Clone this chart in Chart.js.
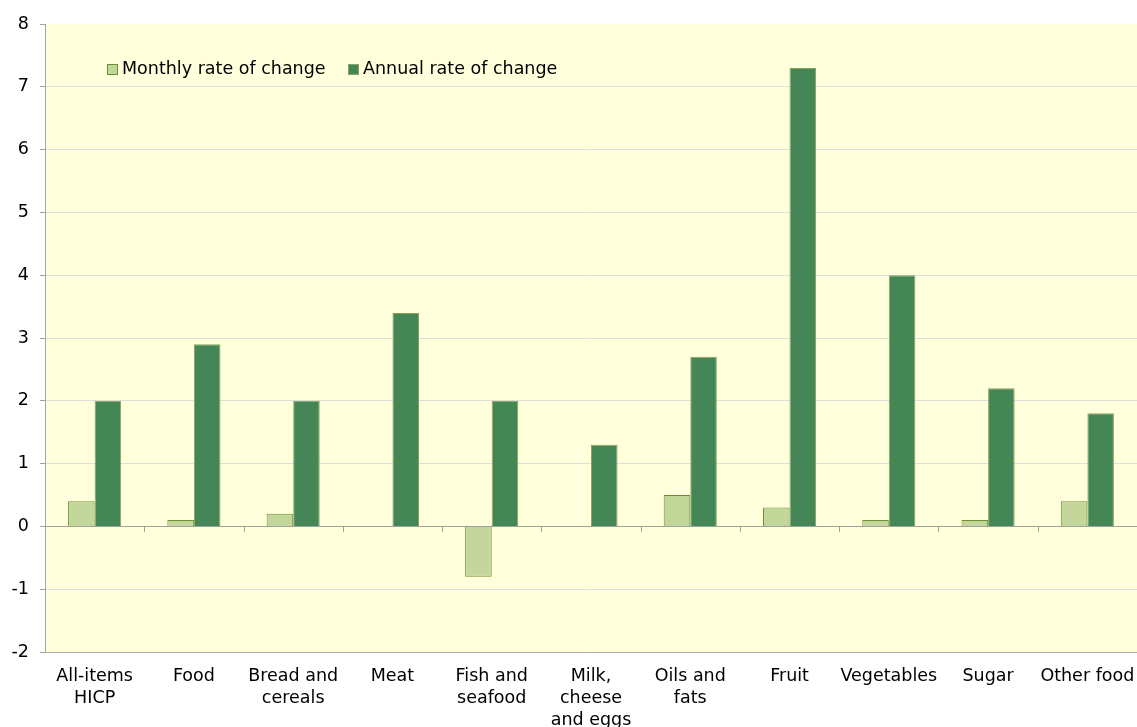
<!DOCTYPE html>
<html>
<head>
<meta charset="utf-8">
<script src="https://cdn.jsdelivr.net/npm/chart.js@4/dist/chart.umd.min.js"></script>
<style>
  html, body { margin: 0; padding: 0; background: #fff; overflow: hidden; }
  #wrap { width: 1137px; height: 727px; }
  canvas { display: block; }
</style>
</head>
<body>
<div id="wrap"><canvas id="foodChart" width="1137" height="727"></canvas></div>
<script>
var categories = [
  ["All-items", "HICP"], "Food", ["Bread and", "cereals"], "Meat", ["Fish and", "seafood"],
  ["Milk,", "cheese", "and eggs"], ["Oils and", "fats"], "Fruit", "Vegetables", "Sugar", "Other food"
];
var monthlyRate = [0.4, 0.1, 0.2, 0, -0.8, 0, 0.5, 0.3, 0.1, 0.1, 0.4];
var annualRate = [2.0, 2.9, 2.0, 3.4, 2.0, 1.3, 2.7, 7.3, 4.0, 2.2, 1.8];
var yMin = -2, yMax = 8, yStep = 1;

var FONT = "'DejaVu Sans', Verdana, sans-serif";
var FSIZE = 17.5;

// yellow plot background + small tick marks on the zero line
var plotDecor = {
  id: "plotDecor",
  beforeDraw: function (chart) {
    var a = chart.chartArea, c = chart.ctx;
    c.save();
    c.fillStyle = "#ffffdb";
    c.fillRect(a.left, a.top, a.right - a.left, a.bottom - a.top);
    c.restore();
  },
  afterDatasetsDraw: function (chart) {
    var c = chart.ctx, x = chart.scales.x, y = chart.scales.y;
    var y0 = Math.round(y.getPixelForValue(0));
    c.save();
    c.strokeStyle = "#a0a0a0";
    c.lineWidth = 1;
    c.beginPath();
    c.moveTo(chart.chartArea.left, y0 + 0.5);
    c.lineTo(chart.chartArea.right, y0 + 0.5);
    for (var i = 1; i < categories.length; i++) {
      var px = Math.round((x.getPixelForValue(i - 1) + x.getPixelForValue(i)) / 2) + 0.5;
      c.moveTo(px, y0);
      c.lineTo(px, y0 + 6);
    }
    c.stroke();
    c.restore();
  }
};

// legend drawn inside the plot area
var innerLegend = {
  id: "innerLegend",
  afterDraw: function (chart) {
    var c = chart.ctx;
    var xs = [107, 348];
    var yc = 69;
    c.save();
    c.font = FSIZE + "px " + FONT;
    c.textBaseline = "middle";
    chart.data.datasets.forEach(function (ds, i) {
      c.fillStyle = ds.backgroundColor;
      c.fillRect(xs[i] + 0.5, yc - 5 + 0.5, 10, 10);
      c.strokeStyle = ds.borderColor;
      c.lineWidth = 1;
      c.strokeRect(xs[i] + 0.5, yc - 5 + 0.5, 10, 10);
      c.fillStyle = "#000";
      c.fillText(ds.label, xs[i] + 15, yc);
    });
    c.restore();
  }
};

var ctx = document.getElementById("foodChart").getContext("2d");
var chart = new Chart(ctx, {
  type: "bar",
  data: {
    labels: categories,
    datasets: [
      {
        label: "Monthly rate of change",
        data: monthlyRate,
        backgroundColor: "#c4d79b",
        borderColor: "#6f8f32",
        borderWidth: 1,
      },
      {
        label: "Annual rate of change",
        data: annualRate,
        backgroundColor: "#458657",
        borderColor: "#8aa35a",
        borderWidth: 1,
      },
    ],
  },
  options: {
    responsive: false,
    animation: false,
    layout: { padding: { top: 24, right: 0, bottom: 0, left: 0 } },
    datasets: { bar: { categoryPercentage: 0.535, barPercentage: 1 } },
    plugins: { legend: { display: false }, tooltip: { enabled: false } },
    scales: {
      x: {
        grid: { display: false, drawTicks: false },
        border: { display: true, color: "#b0b0b0" },
        ticks: { color: "#000", font: { family: FONT, size: FSIZE, lineHeight: 1.26 }, padding: 13, maxRotation: 0, autoSkip: false },
        afterFit: function (s) { s.height = 75; s.paddingLeft = 0; s.paddingRight = 0; },
      },
      y: {
        min: yMin,
        max: yMax,
        ticks: { stepSize: yStep, color: "#000", font: { family: FONT, size: FSIZE }, padding: 11 },
        grid: {
          color: function (c) {
            if (c.tick.value === yMax) return "rgba(0,0,0,0)";
            return "#dedede";
          },
          tickColor: "#a0a0a0",
          tickLength: 5,
        },
        border: { display: true, color: "#a6a6a6" },
        afterFit: function (s) { s.width = 45; },
      },
    },
  },
  plugins: [plotDecor, innerLegend],
});
</script>
</body>
</html>
